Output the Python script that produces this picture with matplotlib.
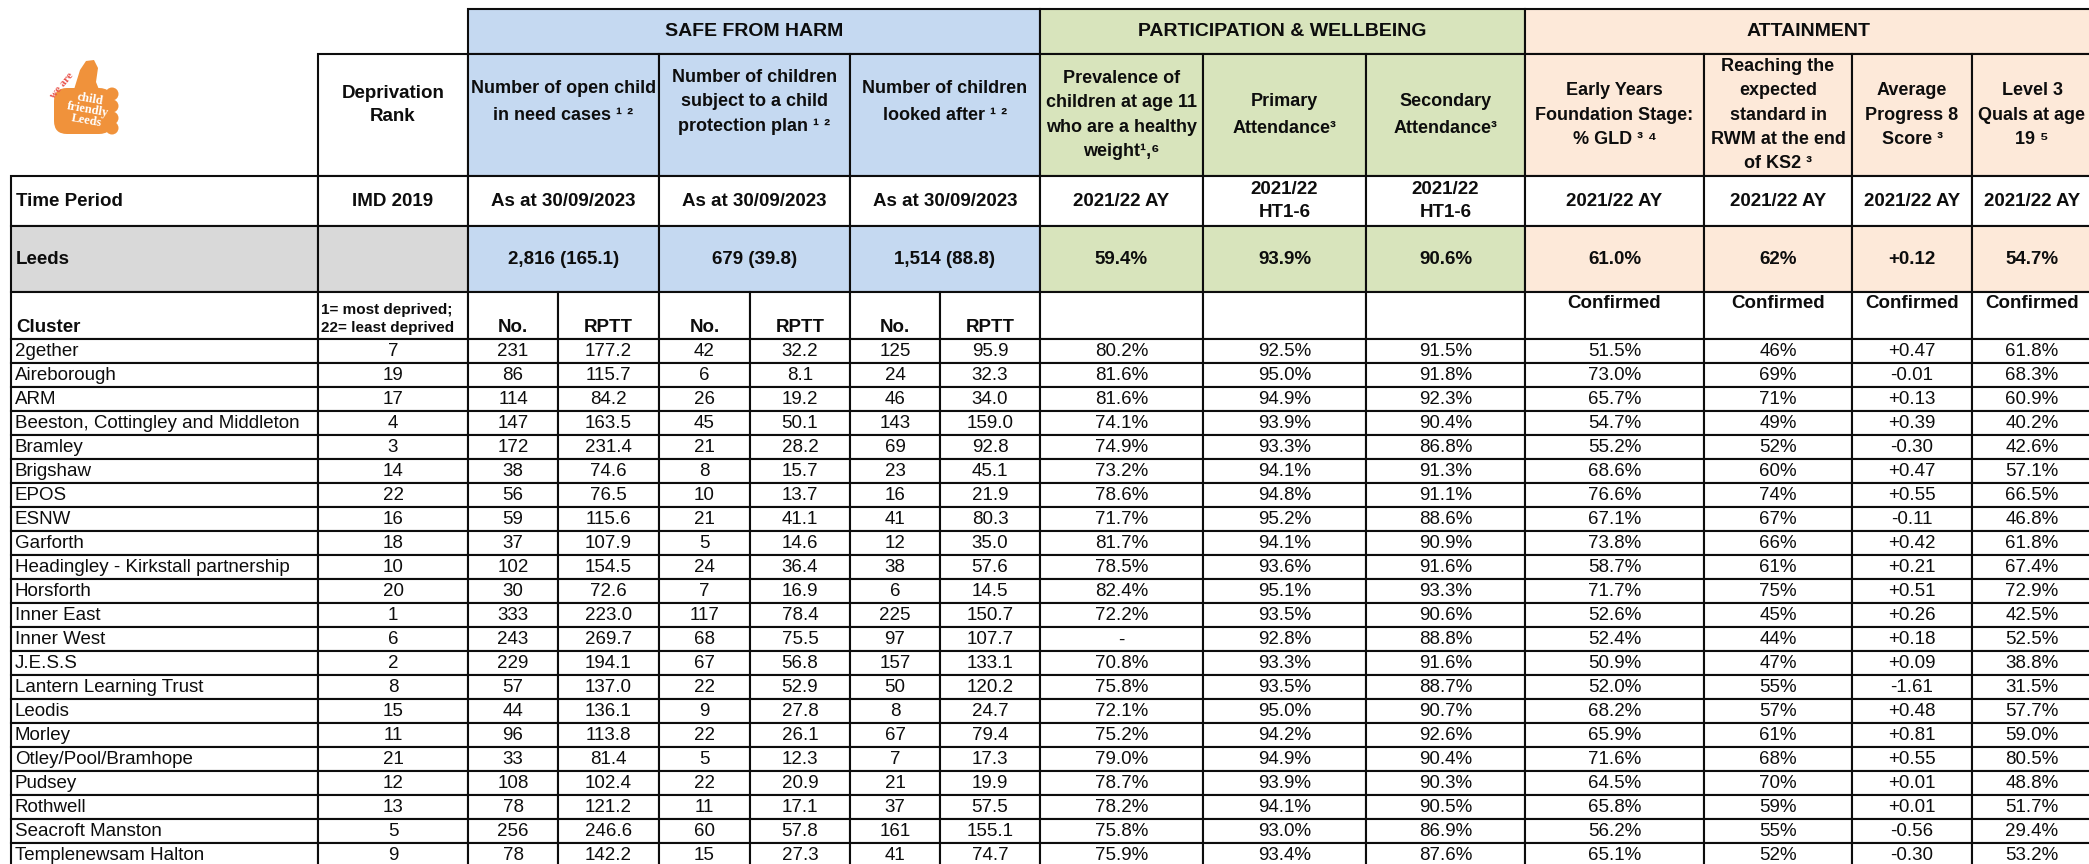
# Leeds cluster dashboard table redrawn with matplotlib patches and text
import matplotlib
matplotlib.use("Agg")
import matplotlib.pyplot as plt
from matplotlib.patches import Rectangle, FancyBboxPatch, Polygon, Circle

plt.rcParams['font.family'] = ['Liberation Sans Narrow', 'Liberation Sans', 'DejaVu Sans']

# ---- data ----
clusters = ["2gether", "Aireborough", "ARM", "Beeston, Cottingley and Middleton", "Bramley",
            "Brigshaw", "EPOS", "ESNW", "Garforth", "Headingley - Kirkstall partnership",
            "Horsforth", "Inner East", "Inner West", "J.E.S.S", "Lantern Learning Trust",
            "Leodis", "Morley", "Otley/Pool/Bramhope", "Pudsey", "Rothwell",
            "Seacroft Manston", "Templenewsam Halton"]
rank = [7, 19, 17, 4, 3, 14, 22, 16, 18, 10, 20, 1, 6, 2, 8, 15, 11, 21, 12, 13, 5, 9]
cin_no = [231, 86, 114, 147, 172, 38, 56, 59, 37, 102, 30, 333, 243, 229, 57, 44, 96, 33, 108, 78, 256, 78]
cin_rptt = [177.2, 115.7, 84.2, 163.5, 231.4, 74.6, 76.5, 115.6, 107.9, 154.5, 72.6, 223.0, 269.7,
            194.1, 137.0, 136.1, 113.8, 81.4, 102.4, 121.2, 246.6, 142.2]
cpp_no = [42, 6, 26, 45, 21, 8, 10, 21, 5, 24, 7, 117, 68, 67, 22, 9, 22, 5, 22, 11, 60, 15]
cpp_rptt = [32.2, 8.1, 19.2, 50.1, 28.2, 15.7, 13.7, 41.1, 14.6, 36.4, 16.9, 78.4, 75.5, 56.8,
            52.9, 27.8, 26.1, 12.3, 20.9, 17.1, 57.8, 27.3]
cla_no = [125, 24, 46, 143, 69, 23, 16, 41, 12, 38, 6, 225, 97, 157, 50, 8, 67, 7, 21, 37, 161, 41]
cla_rptt = [95.9, 32.3, 34.0, 159.0, 92.8, 45.1, 21.9, 80.3, 35.0, 57.6, 14.5, 150.7, 107.7, 133.1,
            120.2, 24.7, 79.4, 17.3, 19.9, 57.5, 155.1, 74.7]
healthy_weight = [80.2, 81.6, 81.6, 74.1, 74.9, 73.2, 78.6, 71.7, 81.7, 78.5, 82.4, 72.2, None,
                  70.8, 75.8, 72.1, 75.2, 79.0, 78.7, 78.2, 75.8, 75.9]
primary_att = [92.5, 95.0, 94.9, 93.9, 93.3, 94.1, 94.8, 95.2, 94.1, 93.6, 95.1, 93.5, 92.8, 93.3,
               93.5, 95.0, 94.2, 94.9, 93.9, 94.1, 93.0, 93.4]
secondary_att = [91.5, 91.8, 92.3, 90.4, 86.8, 91.3, 91.1, 88.6, 90.9, 91.6, 93.3, 90.6, 88.8, 91.6,
                 88.7, 90.7, 92.6, 90.4, 90.3, 90.5, 86.9, 87.6]
eyfs_gld = [51.5, 73.0, 65.7, 54.7, 55.2, 68.6, 76.6, 67.1, 73.8, 58.7, 71.7, 52.6, 52.4, 50.9,
            52.0, 68.2, 65.9, 71.6, 64.5, 65.8, 56.2, 65.1]
ks2_rwm = [46, 69, 71, 49, 52, 60, 74, 67, 66, 61, 75, 45, 44, 47, 55, 57, 61, 68, 70, 59, 55, 52]
progress8 = [0.47, -0.01, 0.13, 0.39, -0.30, 0.47, 0.55, -0.11, 0.42, 0.21, 0.51, 0.26, 0.18, 0.09,
             -1.61, 0.48, 0.81, 0.55, 0.01, 0.01, -0.56, -0.30]
level3 = [61.8, 68.3, 60.9, 40.2, 42.6, 57.1, 66.5, 46.8, 61.8, 67.4, 72.9, 42.5, 52.5, 38.8,
          31.5, 57.7, 59.0, 80.5, 48.8, 51.7, 29.4, 53.2]

groups = ["SAFE FROM HARM", "PARTICIPATION & WELLBEING", "ATTAINMENT"]
indicators = ["Number of open child\nin need cases \u00b9 \u00b2",
              "Number of children\nsubject to a child\nprotection plan \u00b9 \u00b2",
              "Number of children\nlooked after \u00b9 \u00b2",
              "Prevalence of\nchildren at age 11\nwho are a healthy\nweight\u00b9,\u2076",
              "Primary\nAttendance\u00b3",
              "Secondary\nAttendance\u00b3",
              "Early Years\nFoundation Stage:\n% GLD \u00b3 \u2074",
              "Reaching the\nexpected\nstandard in\nRWM at the end\nof KS2 \u00b3",
              "Average\nProgress 8\nScore \u00b3",
              "Level 3\nQuals at age\n19 \u2075"]
time_periods = ["As at 30/09/2023", "As at 30/09/2023", "As at 30/09/2023", "2021/22 AY",
                "2021/22\nHT1-6", "2021/22\nHT1-6", "2021/22 AY", "2021/22 AY", "2021/22 AY",
                "2021/22 AY"]
leeds_values = ["2,816 (165.1)", "679 (39.8)", "1,514 (88.8)", "59.4%", "93.9%", "90.6%",
                "61.0%", "62%", "+0.12", "54.7%"]

# ---- layout (pixels) ----
col_edges = [11, 318, 468, 558, 659, 750, 850, 940, 1040, 1203, 1366, 1525, 1704, 1852, 1972, 2092]
ind_spans = [(2, 4), (4, 6), (6, 8), (8, 9), (9, 10), (10, 11), (11, 12), (12, 13), (13, 14), (14, 15)]
group_spans = [(2, 8), (8, 11), (11, 15)]
blue, green, peach, grey = "#C5D9F1", "#D8E4BC", "#FDE9D9", "#D9D9D9"
group_colors = [blue, green, peach]
ind_colors = [blue] * 3 + [green] * 3 + [peach] * 4
# header line spacing and vertical centre for each indicator cell
ind_ls = [1.75, 1.55, 1.75, 1.55, 1.75, 1.75, 1.6, 1.55, 1.6, 1.6]
ind_ty = [102, 102, 102, None, None, None, None, None, None, None]
y_cat, y_head, y_time, y_leeds, y_clus, y_data = 9, 54, 176, 226, 292, 339
row_h = 24
LW = 1.5
INK = "#0d0d0d"

fig = plt.figure(figsize=(20.89, 8.64), dpi=100)
ax = fig.add_axes([0, 0, 1, 1])
ax.set_xlim(0, 2089)
ax.set_ylim(864, 0)
ax.axis('off')


def cell(c0, c1, y0, y1, text="", fc="white", bold=False, size=12, ha="center", va="center",
         ls=1.25, pad=5, ty=None, family=None):
    x0, x1 = col_edges[c0], col_edges[c1]
    ax.add_patch(Rectangle((x0, y0), x1 - x0, y1 - y0, facecolor=fc, edgecolor=INK,
                           lw=LW, zorder=1))
    if text:
        tx = {"center": (x0 + x1) / 2, "left": x0 + pad}[ha]
        if ty is None:
            ty = (y0 + y1) / 2
        kw = {"family": family} if family else {}
        ax.text(tx, ty, text, ha=ha, va=va, fontsize=size, linespacing=ls,
                fontweight="bold" if bold else "normal", color=INK, zorder=3, **kw)


# group header row
for name, (c0, c1), fc in zip(groups, group_spans, group_colors):
    cell(c0, c1, y_cat, y_head, name, fc, bold=True, size=14)

# indicator header row
cell(1, 2, y_head, y_time, "Deprivation\nRank", bold=True, size=13.5, ls=1.5, ty=105)
for text, (c0, c1), fc, ls, ty in zip(indicators, ind_spans, ind_colors, ind_ls, ind_ty):
    cell(c0, c1, y_head, y_time, text, fc, bold=True, size=13, ls=ls, ty=ty)

# time period row
cell(0, 1, y_time, y_leeds, "Time Period", bold=True, size=13.5, ha="left")
cell(1, 2, y_time, y_leeds, "IMD 2019", bold=True, size=13.5)
for text, (c0, c1) in zip(time_periods, ind_spans):
    cell(c0, c1, y_time, y_leeds, text, bold=True, size=13.5, ls=1.5)

# Leeds row
cell(0, 1, y_leeds, y_clus, "Leeds", grey, bold=True, size=13.5, ha="left")
cell(1, 2, y_leeds, y_clus, "", grey)
for text, (c0, c1), fc in zip(leeds_values, ind_spans, ind_colors):
    cell(c0, c1, y_leeds, y_clus, text, fc, bold=True, size=13.5)

# cluster sub-header row
cell(0, 1, y_clus, y_data, "Cluster", bold=True, size=13.5, ha="left", va="bottom", ty=y_data - 3)
cell(1, 2, y_clus, y_data, "1= most deprived;\n22= least deprived", ha="left", bold=True,
     size=11, ls=1.3, pad=3, ty=319, family=['Liberation Sans', 'DejaVu Sans'])
for c in range(2, 8):
    cell(c, c + 1, y_clus, y_data, "No." if c % 2 == 0 else "RPTT", bold=True, size=13.5,
         va="bottom", ty=y_data - 3)
for c in range(8, 11):
    cell(c, c + 1, y_clus, y_data)
for c in range(11, 15):
    cell(c, c + 1, y_clus, y_data, "Confirmed", bold=True, size=13.5, va="top", ty=y_clus + 3)

# data rows
for i, name in enumerate(clusters):
    y0 = y_data + i * row_h
    y1 = y0 + row_h
    hw = "-" if healthy_weight[i] is None else f"{healthy_weight[i]:.1f}%"
    values = [str(rank[i]), str(cin_no[i]), f"{cin_rptt[i]:.1f}", str(cpp_no[i]),
              f"{cpp_rptt[i]:.1f}", str(cla_no[i]), f"{cla_rptt[i]:.1f}", hw,
              f"{primary_att[i]:.1f}%", f"{secondary_att[i]:.1f}%", f"{eyfs_gld[i]:.1f}%",
              f"{ks2_rwm[i]}%", f"{progress8[i]:+.2f}", f"{level3[i]:.1f}%"]
    cell(0, 1, y0, y1, name, ha="left", size=13.5, pad=4, ty=y0 + 13)
    for c, v in enumerate(values, start=1):
        cell(c, c + 1, y0, y1, v, size=13.5, ty=y0 + 13)

# logo: orange thumbs-up
orange = "#F0923B"
ax.add_patch(FancyBboxPatch((54, 88), 58, 46, boxstyle="round,pad=0,rounding_size=13",
                            facecolor=orange, edgecolor="none", zorder=2))
ax.add_patch(Polygon([(72, 96), (80, 70), (86, 61), (94, 60), (98, 68), (96, 82), (100, 92)],
                     closed=True, facecolor=orange, edgecolor="none", zorder=2))
for yy in (94, 106, 118, 128):
    ax.add_patch(Circle((112, yy), 6.5, facecolor=orange, edgecolor="none", zorder=2))
ax.text(62, 86, "we are", rotation=50, color="#E8524A", fontsize=8, fontweight="bold",
        family="Liberation Serif", ha="center", va="center", zorder=3)
ax.text(88, 110, "child\nfriendly\nLeeds", rotation=-10, color="white", fontsize=9,
        fontweight="bold", family="Liberation Serif", ha="center", va="center",
        linespacing=0.85, zorder=3)

fig.savefig("out.png", dpi=100)
